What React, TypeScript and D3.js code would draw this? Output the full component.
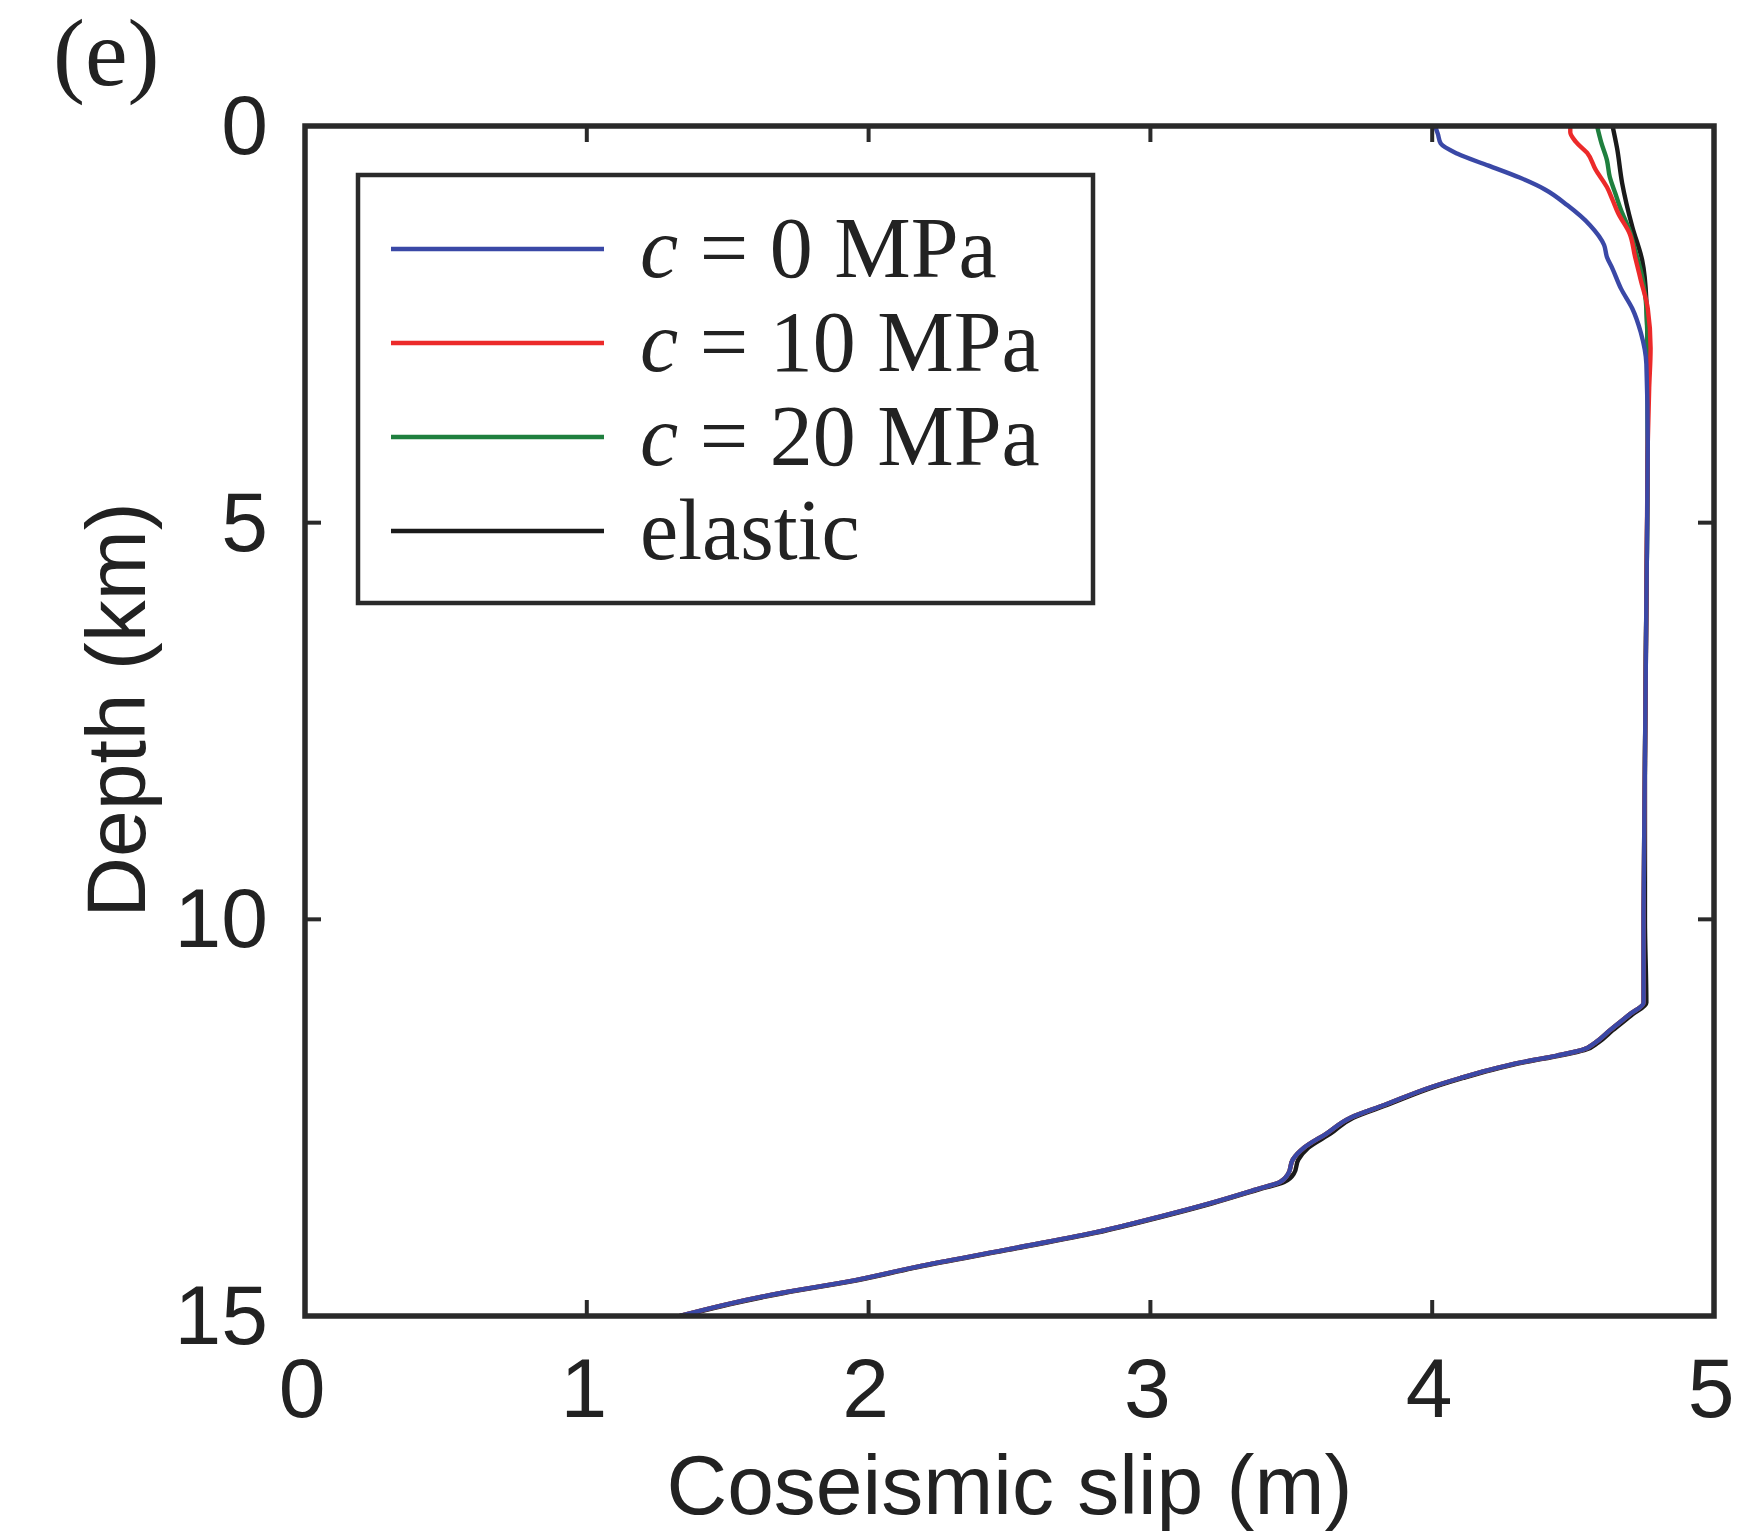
import React from 'react';
import * as d3 from 'd3';

const W = 1753;
const H = 1533;

const xTicks = [0, 1, 2, 3, 4, 5];
const yTicks = [0, 5, 10, 15];

// shallow parts (depth km, slip m)
const c0TopDepth = [0, 0.1, 0.22, 0.35, 0.5, 0.65, 0.8, 1.0, 1.25, 1.5, 1.65, 1.8, 2.05, 2.3, 2.6, 3.0];
const c0TopSlip = [4.01, 4.02, 4.03, 4.09, 4.2, 4.31, 4.4, 4.48, 4.56, 4.61, 4.62, 4.64, 4.67, 4.71, 4.74, 4.76];

const c10TopDepth = [0, 0.08, 0.2, 0.34, 0.55, 0.77, 0.93, 1.1, 1.35, 1.65, 1.94, 2.3, 2.8, 3.3];
const c10TopSlip = [4.49, 4.49, 4.51, 4.55, 4.58, 4.62, 4.64, 4.66, 4.7, 4.72, 4.74, 4.765, 4.775, 4.77];

const c20TopDepth = [0, 0.21, 0.43, 0.64, 0.85, 1.06, 1.31, 1.56, 1.9, 2.3, 3.0];
const c20TopSlip = [4.585, 4.6, 4.62, 4.63, 4.65, 4.67, 4.7, 4.72, 4.745, 4.76, 4.765];

const elTopDepth = [0, 0.28, 0.72, 1.27, 1.69, 2.2, 3.0];
const elTopSlip = [4.64, 4.656, 4.674, 4.71, 4.745, 4.76, 4.765];

// deep part shared by the plastic runs (depth km, slip m)
const deepDepth = [4.0, 6.0, 8.0, 10.0, 11.05, 11.2, 11.4, 11.55, 11.65, 11.72, 11.8, 11.9, 12.0, 12.11, 12.34, 12.5, 12.7, 12.88, 13.03, 13.2, 13.31, 13.41, 13.58, 13.75, 13.95, 14.17, 14.38, 14.57, 14.71, 14.85, 15.0];
const deepSlip = [4.765, 4.76, 4.755, 4.75, 4.75, 4.7, 4.63, 4.58, 4.53, 4.44, 4.32, 4.2, 4.1, 4.0, 3.83, 3.71, 3.625, 3.545, 3.505, 3.49, 3.46, 3.37, 3.21, 3.03, 2.8, 2.48, 2.17, 1.92, 1.69, 1.5, 1.33];
const elDeepSlip = [4.765, 4.76, 4.755, 4.755, 4.76, 4.71, 4.64, 4.59, 4.54, 4.45, 4.33, 4.21, 4.11, 4.01, 3.84, 3.72, 3.64, 3.56, 3.525, 3.51, 3.475, 3.38, 3.22, 3.04, 2.81, 2.49, 2.18, 1.93, 1.7, 1.51, 1.34];

const seriesNames = ['c0', 'c10', 'c20', 'elastic'];
const seriesColors = ['#3a48a6', '#ec2a2a', '#1f7f3e', '#1a1a1a'];
const legendNums = ['0', '10', '20'];

function pairs(d: number[], s: number[]): [number, number][] {
  return d.map((v, i) => [v, s[i]] as [number, number]);
}

export default function App() {
  const x = d3.scaleLinear().domain([0, 5]).range([305, 1714]);
  const y = d3.scaleLinear().domain([0, 15]).range([126, 1316]);
  const line = d3
    .line<[number, number]>()
    .x((d) => x(d[1]))
    .y((d) => y(d[0]))
    .curve(d3.curveMonotoneY);

  const series: Record<string, [number, number][]> = {
    c0: [...pairs(c0TopDepth, c0TopSlip), ...pairs(deepDepth, deepSlip)],
    c10: [...pairs(c10TopDepth, c10TopSlip), ...pairs(deepDepth, deepSlip)],
    c20: [...pairs(c20TopDepth, c20TopSlip), ...pairs(deepDepth, deepSlip)],
    elastic: [...pairs(elTopDepth, elTopSlip), ...pairs(deepDepth, elDeepSlip)],
  };
  const drawOrder = ['elastic', 'c20', 'c10', 'c0'];

  const [x0, x1] = x.range();
  const [y0, y1] = y.range();
  const tickLen = 16;
  const axisColor = '#2a2a2a';
  const sans = '"Liberation Sans", Arial, sans-serif';
  const serif = '"Liberation Serif", "Times New Roman", serif';

  const legX = 358, legY = 175, legW = 735, legH = 428;
  const legLineX0 = 391, legLineX1 = 604, legRow0 = 249, legRowStep = 94, legTextX = 640;

  return (
    <svg
      width={W}
      height={H}
      style={{ position: 'absolute', left: 0, top: 0, background: '#fff' }}
    >
      <rect x={0} y={0} width={W} height={H} fill="#fff" />
      {/* panel label */}
      <text x={53} y={85} fontFamily={serif} fontSize={96} fill="#222">(e)</text>

      <defs>
        <clipPath id="clip">
          <rect x={x0} y={y0} width={x1 - x0} height={y1 - y0} />
        </clipPath>
      </defs>

      {/* data lines */}
      <g clipPath="url(#clip)">
        {drawOrder.map((k) => (
          <path
            key={k}
            d={line(series[k]) || ''}
            fill="none"
            stroke={seriesColors[seriesNames.indexOf(k)]}
            strokeWidth={4.4}
            strokeLinejoin="round"
            strokeLinecap="butt"
          />
        ))}
      </g>

      {/* ticks */}
      {xTicks.map((t) => (
        <g key={'xt' + t}>
          <line x1={x(t)} x2={x(t)} y1={y1} y2={y1 - tickLen} stroke={axisColor} strokeWidth={4} />
          <line x1={x(t)} x2={x(t)} y1={y0} y2={y0 + tickLen} stroke={axisColor} strokeWidth={4} />
          <text x={x(t) - 3} y={1417} textAnchor="middle" fontFamily={sans} fontSize={84} fill="#222">
            {t}
          </text>
        </g>
      ))}
      {yTicks.map((t) => (
        <g key={'yt' + t}>
          <line x1={x0} x2={x0 + tickLen} y1={y(t)} y2={y(t)} stroke={axisColor} strokeWidth={4} />
          <line x1={x1} x2={x1 - tickLen} y1={y(t)} y2={y(t)} stroke={axisColor} strokeWidth={4} />
          <text x={268} y={y(t) + 28} textAnchor="end" fontFamily={sans} fontSize={84} fill="#222">
            {t}
          </text>
        </g>
      ))}

      {/* frame */}
      <rect x={x0} y={y0} width={x1 - x0} height={y1 - y0} fill="none" stroke={axisColor} strokeWidth={5.5} />

      {/* axis labels */}
      <text x={(x0 + x1) / 2} y={1514} textAnchor="middle" fontFamily={sans} fontSize={84} fill="#222">
        Coseismic slip (m)
      </text>
      <text
        transform={`translate(145, ${(y0 + y1) / 2 - 11}) rotate(-90)`}
        textAnchor="middle"
        fontFamily={sans}
        fontSize={84}
        fill="#222"
      >
        Depth (km)
      </text>

      {/* legend */}
      <rect x={legX} y={legY} width={legW} height={legH} fill="#fff" stroke={axisColor} strokeWidth={4.5} />
      {seriesNames.map((k, i) => {
        const ly = legRow0 + i * legRowStep;
        return (
          <g key={'leg' + k}>
            <line x1={legLineX0} x2={legLineX1} y1={ly} y2={ly} stroke={seriesColors[i]} strokeWidth={4.6} />
            <text x={legTextX} y={ly + 28} fontFamily={serif} fontSize={86} fill="#222">
              {i < 3 ? (
                <>
                  <tspan fontStyle="italic">c</tspan>
                  <tspan>{` = ${legendNums[i]} MPa`}</tspan>
                </>
              ) : (
                'elastic'
              )}
            </text>
          </g>
        );
      })}
    </svg>
  );
}
